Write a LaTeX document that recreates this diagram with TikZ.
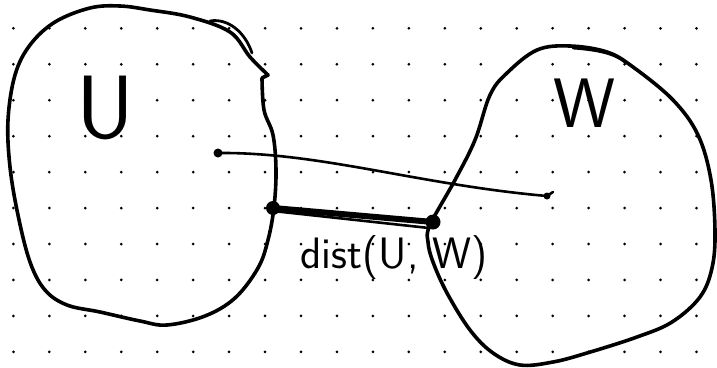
\documentclass[tikz,border=0pt]{standalone}
\usepackage{tikz}
\usetikzlibrary{positioning,calc}

\begin{document}
\begin{tikzpicture}[x=1pt, y=-1pt, line cap=round, line join=round,
  blob/.style={line width=3.6pt, black},
  griddot/.style={fill=black},
  handtext/.style={font=\sffamily, inner sep=0pt}]
\useasboundingbox[fill=white] (0,0) rectangle (717,367);
% dot grid of the note page
\foreach \i in {0,...,19}
  \foreach \j in {0,...,9}
    \fill[griddot] (13.4+35.95*\i, 28.3+35.95*\j) circle (1.5pt);

% set U
\draw[blob] plot[smooth, tension=0.6] coordinates {(262,78) (264,110) (273,135) (276,170) (274,207)
  (268,240) (258,268) (235,298) (205,316) (167,325) (140,321) (100,312) (67,305) (45,290)
  (30,262) (18,215) (10,167) (8,120) (15,75) (30,45) (55,22) (90,8) (120,6) (150,10)
  (190,17) (230,32) (250,57) (268,75)} -- (262,78);
\draw[line width=2.8pt] (210,21) .. controls (228,18) and (245,32) .. (252,53);

% set W
\draw[blob] plot[smooth cycle, tension=0.6] coordinates {(430,225) (428,242) (433,262) (447,293)
  (470,330) (493,353) (520,365) (553,362) (587,353) (637,337) (672,322) (700,297) (712,268)
  (715,232) (711,180) (698,135) (673,100) (633,67) (607,52) (570,46) (537,50) (507,73)
  (490,95) (475,140) (455,180)};
\draw[line width=2.8pt] (573,48) .. controls (600,50) and (615,54) .. (625,62);

% labels
\node[handtext, font=\sffamily\fontsize{90}{90}\selectfont] (labU) at (105,108) {U};
\node[handtext, font=\sffamily\fontsize{70}{70}\selectfont] (labW) at (585,103) {W};
\node[handtext, font=\sffamily\fontsize{44}{44}\selectfont] (labD) at (394,258) {dist(U, W)};

% points and connectors
\coordinate (u) at (218,153);
\coordinate (w) at (547,196);
\coordinate (pu) at (273,208);
\coordinate (pw) at (433,222);
\draw[line width=2.6pt] (u) .. controls (320,152) and (420,185) .. (w) -- ++(6,-4);
\fill (u) circle (4.5pt);
\fill (w) circle (3.5pt);
\draw[line width=6pt] (pu) -- (pw);
\draw[line width=2.6pt] ($(pu)+(0,3)$) -- ($(pw)+(-4,6)$);
\fill (pu) circle (7pt);
\fill (pw) circle (7.5pt);
\end{tikzpicture}
\end{document}
